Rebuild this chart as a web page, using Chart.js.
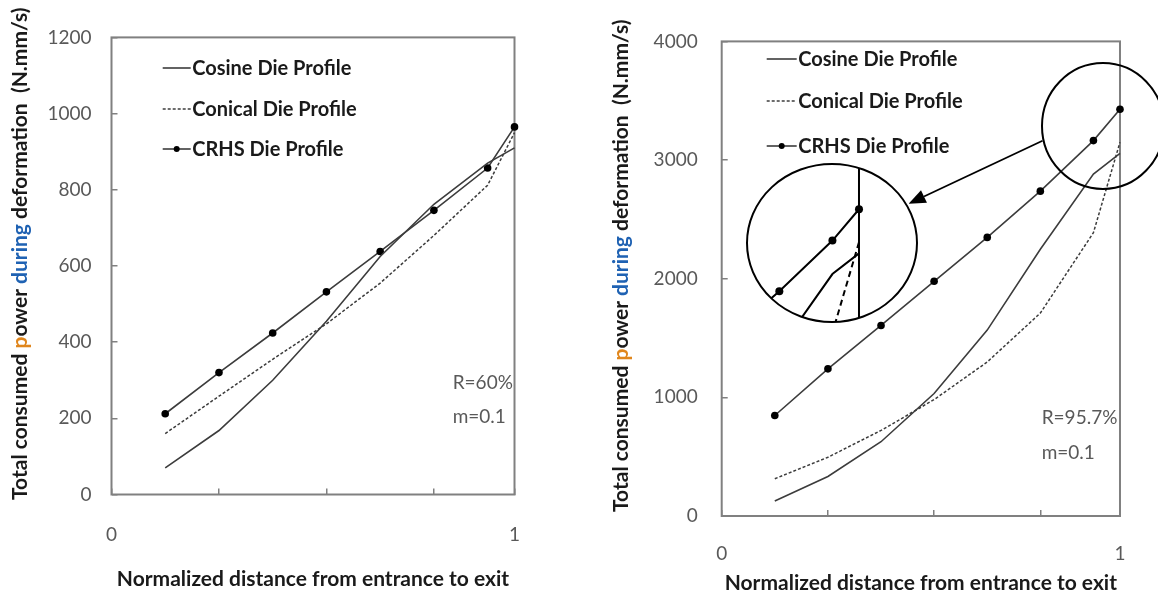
<!DOCTYPE html>
<html>
<head>
<meta charset="utf-8">
<script src="https://cdn.jsdelivr.net/npm/chart.js@4.4.1/dist/chart.umd.min.js"></script>
<style>
  body { margin: 0; background: #fff; }
  #wrap { position: relative; width: 1158px; height: 599px; }
  canvas { position: absolute; top: 0; }
  #left { left: 0; }
  #right { left: 579px; }
</style>
</head>
<body>
<div id="wrap">
  <canvas id="left" width="579" height="599"></canvas>
  <canvas id="right" width="579" height="599"></canvas>
</div>
<script>
// normalized distance of each sample, entrance (0) to exit (1)
const xPositions = [0.1333, 0.2667, 0.4, 0.5333, 0.6667, 0.8, 0.9333, 1.0];
const xTickValues = [0, 0.2667, 0.5333, 0.8, 1];
const xTickLabels = ['0', '', '', '', '1'];

const seriesNames = ['Cosine Die Profile', 'Conical Die Profile', 'CRHS Die Profile'];

// R = 60%
const cosineR60 = [70, 168, 300, 455, 625, 762, 870, 910];
const conicalR60 = [160, 258, 355, 448, 555, 680, 812, 950];
const crhsR60 = [212, 320, 424, 532, 638, 746, 857, 965];

// R = 95.7%
const cosineR95 = [127, 333, 626, 1032, 1567, 2248, 2882, 3056];
const conicalR95 = [314, 495, 721, 981, 1298, 1710, 2388, 3150];
const crhsR95 = [847, 1240, 1606, 1978, 2348, 2738, 3164, 3428];

const notesR60 = ['R=60%', 'm=0.1'];
const notesR95 = ['R=95.7%', 'm=0.1'];

const xTitle = 'Normalized distance from entrance to exit';
// y title has a couple of coloured words in the original
const yTitleParts = [
  ['Total consumed ', '#1a1a1a'],
  ['p', '#e0861c'],
  ['ower ', '#1a1a1a'],
  ['during', '#1f62b3'],
  [' deformation  (N.mm/s)', '#1a1a1a']
];

Chart.defaults.font.family = 'Lato, "DejaVu Sans", sans-serif';

const lineColor = '#3c3c3c';
const tickColor = '#595959';

// frame, legend, notes and y title
const decorPlugin = {
  id: 'decor',
  beforeDatasetsDraw(chart) {
    const { ctx, chartArea: a } = chart;
    ctx.save();
    ctx.strokeStyle = '#808080';
    ctx.lineWidth = 2;
    ctx.strokeRect(a.left, a.top, a.right - a.left, a.bottom - a.top);
    ctx.restore();
  },
  afterDraw(chart, args, o) {
    const ctx = chart.ctx;
    ctx.save();

    // legend inside plot
    ctx.font = 'bold 20px Lato';
    ctx.textBaseline = 'middle';
    chart.data.datasets.forEach((ds, i) => {
      const y = o.legendRows[i];
      ctx.strokeStyle = lineColor;
      ctx.lineWidth = 1.6;
      ctx.setLineDash(ds.borderDash || []);
      ctx.beginPath();
      ctx.moveTo(o.legendX, y);
      ctx.lineTo(o.legendX + o.legendLen, y);
      ctx.stroke();
      ctx.setLineDash([]);
      if (ds.pointRadius > 0) {
        ctx.fillStyle = '#000';
        ctx.beginPath();
        ctx.arc(o.legendX + o.legendLen / 2, y, 3, 0, Math.PI * 2);
        ctx.fill();
      }
      ctx.fillStyle = '#1a1a1a';
      ctx.fillText(ds.label, o.legendX + o.legendLen + 1.5, y + 1);
    });

    // R and m notes
    ctx.font = '19px Lato';
    ctx.fillStyle = tickColor;
    o.notes.forEach((t, i) => ctx.fillText(t, o.notesX, o.notesY[i]));

    // rotated y title
    ctx.translate(o.yTitleX, o.yTitleBottom);
    ctx.rotate(-Math.PI / 2);
    ctx.font = 'bold 21px Lato';
    ctx.textAlign = 'left';
    let tx = 0;
    yTitleParts.forEach(([t, c]) => {
      ctx.fillStyle = c;
      ctx.fillText(t, tx, 0);
      tx += ctx.measureText(t).width;
    });
    ctx.restore();
  }
};

// magnified view of the exit region (right chart only)
const insetPlugin = {
  id: 'inset',
  afterDatasetsDraw(chart, args, o) {
    if (!o.enabled) return;
    const { ctx, chartArea: a } = chart;
    const { x, y } = chart.scales;
    ctx.save();

    ctx.beginPath();
    ctx.ellipse(o.cx, o.cy, o.rx, o.ry, 0, 0, Math.PI * 2);
    ctx.fillStyle = '#fff';
    ctx.fill();
    ctx.save();
    ctx.clip();
    chart.data.datasets.forEach(ds => {
      ctx.beginPath();
      ds.data.forEach((p, i) => {
        const px = x.getPixelForValue(p.x) + o.dx;
        const py = y.getPixelForValue(p.y) + o.dy;
        if (i === 0) ctx.moveTo(px, py); else ctx.lineTo(px, py);
      });
      ctx.strokeStyle = '#000';
      ctx.lineWidth = 2;
      ctx.setLineDash(ds.borderDash && ds.borderDash.length ? [6, 4] : []);
      ctx.stroke();
      ctx.setLineDash([]);
      if (ds.pointRadius > 0) {
        ctx.fillStyle = '#000';
        ds.data.forEach(p => {
          ctx.beginPath();
          ctx.arc(x.getPixelForValue(p.x) + o.dx, y.getPixelForValue(p.y) + o.dy, 4, 0, Math.PI * 2);
          ctx.fill();
        });
      }
    });
    // right edge of the plot, seen through the lens
    const ex = x.getPixelForValue(1) + o.dx;
    ctx.strokeStyle = '#000';
    ctx.lineWidth = 2;
    ctx.beginPath();
    ctx.moveTo(ex, a.top + o.dy);
    ctx.lineTo(ex, a.bottom + o.dy);
    ctx.stroke();
    ctx.restore();

    ctx.strokeStyle = '#000';
    ctx.lineWidth = 2;
    ctx.beginPath();
    ctx.ellipse(o.cx, o.cy, o.rx, o.ry, 0, 0, Math.PI * 2);
    ctx.stroke();
    ctx.beginPath();
    ctx.ellipse(o.sx, o.sy, o.srx, o.sry, 0, 0, Math.PI * 2);
    ctx.stroke();

    // arrow from the source circle to the lens
    const [x1, y1, x2, y2] = o.arrow;
    const ang = Math.atan2(y2 - y1, x2 - x1);
    const hl = 17, hw = 7;
    const bx = x2 - hl * Math.cos(ang), by = y2 - hl * Math.sin(ang);
    ctx.lineWidth = 1.8;
    ctx.beginPath();
    ctx.moveTo(x1, y1);
    ctx.lineTo(bx, by);
    ctx.stroke();
    ctx.fillStyle = '#000';
    ctx.beginPath();
    ctx.moveTo(x2, y2);
    ctx.lineTo(bx + hw * Math.sin(ang), by - hw * Math.cos(ang));
    ctx.lineTo(bx - hw * Math.sin(ang), by + hw * Math.cos(ang));
    ctx.closePath();
    ctx.fill();
    ctx.restore();
  }
};

function makeDatasets(cosine, conical, crhs) {
  const pts = vals => xPositions.map((x, i) => ({ x: x, y: vals[i] }));
  return [
    { label: seriesNames[0], data: pts(cosine), borderColor: lineColor, borderWidth: 1.6,
      pointRadius: 0, tension: 0, clip: false },
    { label: seriesNames[1], data: pts(conical), borderColor: lineColor, borderWidth: 1.5,
      borderDash: [3, 2], pointRadius: 0, tension: 0, clip: false },
    { label: seriesNames[2], data: pts(crhs), borderColor: lineColor, borderWidth: 1.6,
      pointRadius: 3.8, pointBackgroundColor: '#000', pointBorderWidth: 0, tension: 0, clip: false }
  ];
}

function makeChart(id, c) {
  return new Chart(document.getElementById(id), {
    type: 'line',
    data: { datasets: makeDatasets(c.cosine, c.conical, c.crhs) },
    options: {
      responsive: false,
      animation: false,
      devicePixelRatio: 1,
      events: [],
      layout: { padding: { top: c.padTop, right: c.padRight, left: 0, bottom: 0 } },
      plugins: {
        legend: { display: false },
        tooltip: { enabled: false },
        decor: c.decor,
        inset: c.inset || { enabled: false }
      },
      scales: {
        x: {
          type: 'linear',
          min: 0,
          max: 1,
          afterBuildTicks: s => { s.ticks = xTickValues.map(v => ({ value: v })); },
          afterFit: s => { s.height = c.xHeight; },
          ticks: {
            autoSkip: false,
            maxRotation: 0,
            padding: c.xLabelPad,
            color: tickColor,
            font: { size: 19 },
            callback: (v, i) => xTickLabels[i]
          },
          grid: { drawOnChartArea: false, tickLength: -6, color: '#808080', lineWidth: 1.5 },
          border: { display: false },
          title: {
            display: true,
            text: xTitle,
            color: '#1a1a1a',
            font: { size: 21, weight: 'bold' },
            padding: { top: 0, bottom: c.xTitlePad }
          }
        },
        y: {
          min: 0,
          max: c.yMax,
          afterFit: s => { s.width = c.yWidth; },
          ticks: {
            stepSize: c.yStep,
            padding: c.yLabelPad,
            color: tickColor,
            font: { size: 19 },
            callback: v => String(v)
          },
          grid: { drawOnChartArea: false, tickLength: -6, color: '#808080', lineWidth: 1.5 },
          border: { display: false }
        }
      }
    },
    plugins: [decorPlugin, insetPlugin]
  });
}

makeChart('left', {
  cosine: cosineR60, conical: conicalR60, crhs: crhsR60,
  yMax: 1200, yStep: 200,
  padTop: 26, padRight: 64.5, yWidth: 111.5, xHeight: 104.5,
  yLabelPad: 26, xLabelPad: 35, xTitlePad: 7,
  decor: {
    legendX: 162.7, legendLen: 28, legendRows: [68, 109, 149],
    notes: notesR60, notesX: 452.7, notesY: [383, 417],
    yTitleX: 20, yTitleBottom: 500
  }
});

makeChart('right', {
  cosine: cosineR95, conical: conicalR95, crhs: crhsR95,
  yMax: 4000, yStep: 1000,
  padTop: 32.5, padRight: 32, yWidth: 142.7, xHeight: 83,
  yLabelPad: 30, xLabelPad: 32.5, xTitlePad: 3.5,
  decor: {
    legendX: 187.7, legendLen: 30, legendRows: [59, 101, 146],
    notes: notesR95, notesX: 462.7, notesY: [418, 453],
    yTitleX: 42, yTitleBottom: 512
  },
  inset: {
    enabled: true,
    cx: 253, cy: 243, rx: 85, ry: 79,
    sx: 524, sy: 126, srx: 61, sry: 63,
    dx: -261, dy: 100,
    arrow: [463.5, 140.7, 329.6, 203.7]
  }
});
</script>
</body>
</html>
